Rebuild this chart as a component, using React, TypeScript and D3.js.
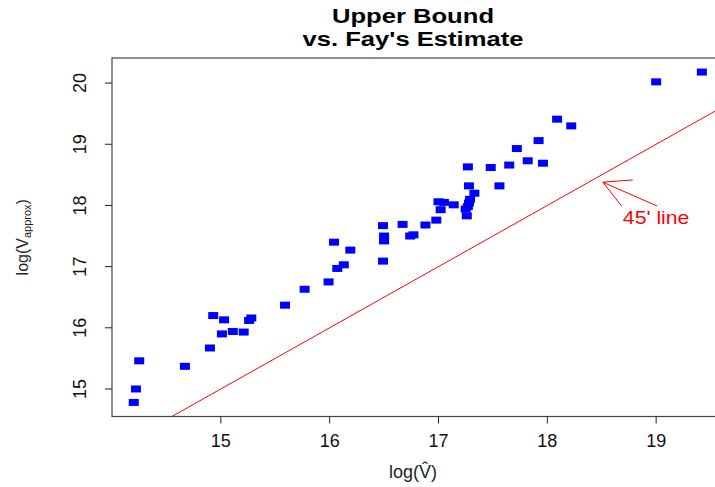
import * as d3 from 'd3';

// log(V hat) vs log(V approx)
const xHat = [
  14.20, 14.22, 14.25, 14.67, 14.90, 14.93, 15.03, 15.01, 15.11, 15.21,
  15.26, 15.28, 15.59, 15.77, 15.99, 16.07, 16.13, 16.04, 16.19, 16.49,
  16.50, 16.50, 16.49, 16.67, 16.74, 16.77, 16.88, 16.98, 17.00, 17.05,
  17.02, 17.14, 17.29, 17.28, 17.27, 17.25, 17.26, 17.33, 17.28, 17.27,
  17.48, 17.56, 17.65, 17.82, 17.96, 17.72, 17.92, 18.09, 18.22, 19.00,
  19.42,
];
const yApprox = [
  14.78, 15.00, 15.46, 15.37, 15.67, 16.20, 16.13, 15.90, 15.94, 15.93,
  16.12, 16.16, 16.37, 16.63, 16.75, 16.97, 17.03, 17.40, 17.27, 17.09,
  17.50, 17.42, 17.67, 17.69, 17.50, 17.52, 17.68, 17.76, 18.06, 18.05,
  17.93, 18.01, 18.10, 18.04, 17.98, 17.94, 17.83, 18.20, 18.32, 18.63,
  18.62, 18.32, 18.66, 18.73, 18.69, 18.93, 19.06, 19.41, 19.30, 20.02,
  20.18,
];
const xTicks = [15, 16, 17, 18, 19];
const yTicks = [15, 16, 17, 18, 19, 20];

// arrow pointing at the 45 degree line
const arrowFrom = { x: 19.01, y: 17.99 };
const arrowTo = { x: 18.51, y: 18.38 };
const lineLabel = { x: 19.0, y: 17.79, text: "45' line" };

const W = 715;
const H = 487;
const m = { left: 112, top: 58, right: 716, bottom: 416.5 };
const font = "'Liberation Sans', Arial, sans-serif";

export default function App() {
  const x = d3.scaleLinear().domain([14, 19.55]).range([m.left, m.right]);
  const y = d3.scaleLinear().domain([14.55, 20.41]).range([m.bottom, m.top]);

  const pts = xHat.map((v, i) => ({ x: v, y: yApprox[i] }));

  const diag = d3.line<number>().x(d => x(d)).y(d => y(d))([14.5, 19.6]) || '';

  // arrow head in pixel space
  const tx = x(arrowTo.x), ty = y(arrowTo.y);
  const fx = x(arrowFrom.x), fy = y(arrowFrom.y);
  const ang = Math.atan2(fy - ty, fx - tx);
  const headLen = 30;
  const spread = (28 * Math.PI) / 180;
  const h1 = [tx + headLen * Math.cos(ang - spread), ty + headLen * Math.sin(ang - spread)];
  const h2 = [tx + headLen * Math.cos(ang + spread), ty + headLen * Math.sin(ang + spread)];

  const cx = (m.left + 714) / 2;
  const stretch = (px: number, k: number) => `translate(${px},0) scale(${k},1) translate(${-px},0)`;
  const lx = x(lineLabel.x);

  return (
    <svg width={W} height={H} style={{ position: 'absolute', left: 0, top: 0, background: '#fff' }}
      fontFamily={font}>
      <defs>
        <clipPath id="plot">
          <rect x={m.left} y={m.top} width={m.right - m.left} height={m.bottom - m.top} />
        </clipPath>
      </defs>

      <text x={cx} y={23} textAnchor="middle" fontSize={21} fontWeight="bold"
        transform={stretch(cx, 1.22)}>Upper Bound</text>
      <text x={cx} y={46} textAnchor="middle" fontSize={21} fontWeight="bold"
        transform={stretch(cx, 1.22)}>vs. Fay's Estimate</text>

      <g clipPath="url(#plot)">
        <path d={diag} fill="none" stroke="#ff0000" strokeWidth={1} />
        {pts.map((p, i) => (
          <rect key={i} x={x(p.x) - 5} y={y(p.y) - 3.5} width={10} height={7} fill="#0000ff" />
        ))}
      </g>

      <rect x={m.left} y={m.top} width={m.right - m.left} height={m.bottom - m.top}
        fill="none" stroke="#444" strokeWidth={1.2} />

      {xTicks.map(t => (
        <g key={t}>
          <line x1={x(t)} x2={x(t)} y1={m.bottom} y2={m.bottom + 7} stroke="#222" />
          <text x={x(t)} y={447} textAnchor="middle" fontSize={18} fill="#111">{t}</text>
        </g>
      ))}
      {yTicks.map(t => (
        <g key={t}>
          <line x1={m.left} x2={m.left - 7} y1={y(t)} y2={y(t)} stroke="#222" />
          <text transform={`translate(86,${y(t)}) rotate(-90)`} textAnchor="middle" fontSize={18}
            fill="#111">{t}</text>
        </g>
      ))}

      <text x={cx} y={478} textAnchor="middle" fontSize={18} fill="#222">log(V&#770;)</text>
      <text transform={`translate(28,${(m.top + m.bottom) / 2}) rotate(-90)`} textAnchor="middle"
        fontSize={16} fill="#222">
        log(V<tspan fontSize={11} dy={3}>approx</tspan><tspan dy={-3}>)</tspan>
      </text>

      <line x1={fx} y1={fy} x2={tx} y2={ty} stroke="#ff0000" strokeWidth={1} />
      <line x1={tx} y1={ty} x2={h1[0]} y2={h1[1]} stroke="#ff0000" strokeWidth={1} />
      <line x1={tx} y1={ty} x2={h2[0]} y2={h2[1]} stroke="#ff0000" strokeWidth={1} />
      <text x={lx} y={y(lineLabel.y) + 6} textAnchor="middle" fontSize={18}
        transform={stretch(lx, 1.18)} fill="#ff0000">{lineLabel.text}</text>
    </svg>
  );
}
